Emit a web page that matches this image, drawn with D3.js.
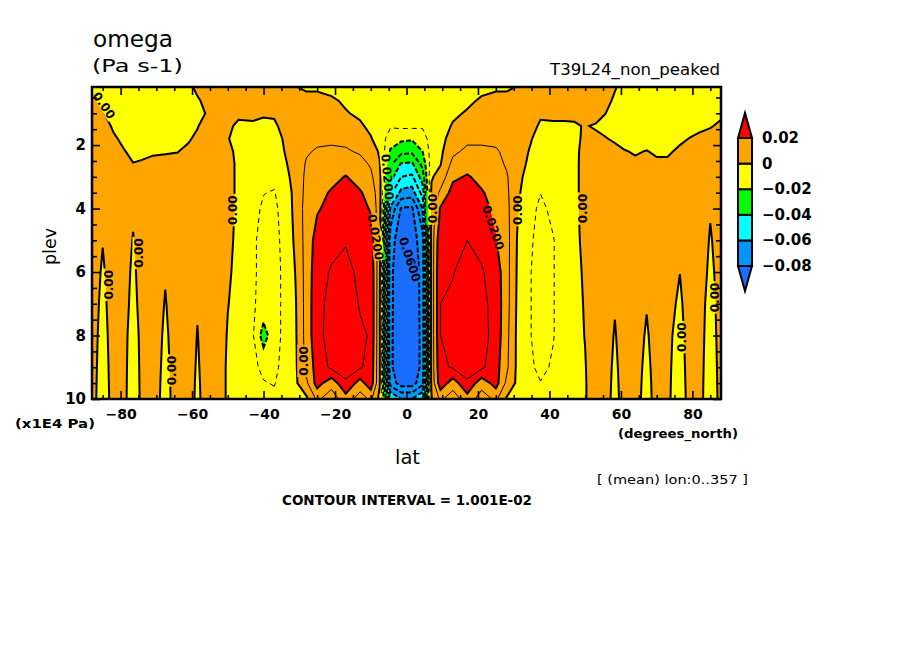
<!DOCTYPE html>
<html>
<head>
<meta charset="utf-8">
<title>omega</title>
<script src="https://cdn.jsdelivr.net/npm/d3@7"></script>
<style>
  body { margin: 0; background: #fff; }
  svg { display: block; }
  text { font-family: "DejaVu Sans", sans-serif; fill: #000; }
</style>
</head>
<body>
<svg id="chart" width="904" height="654"></svg>
<script>
// grid nodes (degrees_north) and levels (x1E4 Pa)
const lats = [-88, -85, -82, -79, -76.5, -74, -71, -67.5, -64, -61, -58.5, -56, -53, -50, -47, -43, -40, -37, -34, -31,
  -28, -25, -21, -17, -13, -10, -7.5, -4.5, -1.5, 1.5, 4.5, 7, 9.5, 13, 17, 21, 25, 28, 31, 34, 37.5, 41, 44, 47, 50,
  53, 55.5, 58.3, 61, 64, 67.2, 70, 73, 76.5, 79.5, 82, 85, 88];
const levels = [0.17, 0.6, 1.0, 1.4, 1.8, 2.2, 2.6, 3.0, 3.5, 4.0, 5.0, 6.0, 7.0, 8.0, 9.0, 9.5, 10.0];

// omega (Pa s-1): one profile per latitude, top level first
const omegaByLat = [
  [-0.003, 0.002, 0.004, 0.004, 0.004, 0.004, 0.004, 0.004, 0.004, 0.004, 0.004, 0.004, 0.004, 0.004, 0.004, 0.004, 0.004],
  [-0.004, -0.003, 0.0005, 0.003, 0.004, 0.004, 0.004, 0.004, 0.004, 0.003, 0.0003, -0.001, -0.0022, -0.0035, -0.0047, -0.0054, -0.006],
  [-0.004, -0.004, -0.003, -0.001, 0.001, 0.003, 0.004, 0.004, 0.004, 0.004, 0.004, 0.004, 0.004, 0.004, 0.004, 0.004, 0.004],
  [-0.004, -0.004, -0.004, -0.003, -0.0015, 0.0003, 0.003, 0.004, 0.004, 0.004, 0.004, 0.004, 0.004, 0.003, 0.003, 0.003, 0.003],
  [-0.004, -0.004, -0.004, -0.004, -0.003, -0.0015, 0.0002, 0.002, 0.002, 0.0011, -0.0004, -0.0019, -0.0034, -0.005, -0.0065, -0.0072, -0.008],
  [-0.004, -0.004, -0.004, -0.004, -0.003, -0.001, 0.0005, 0.003, 0.004, 0.004, 0.004, 0.004, 0.004, 0.003, 0.003, 0.003, 0.003],
  [-0.004, -0.004, -0.004, -0.003, -0.002, -0.0005, 0.001, 0.003, 0.004, 0.004, 0.004, 0.004, 0.004, 0.004, 0.004, 0.004, 0.004],
  [-0.004, -0.004, -0.004, -0.003, -0.0015, -0.0003, 0.001, 0.003, 0.004, 0.004, 0.003, 0.0005, -0.0004, -0.0013, -0.0021, -0.0026, -0.003],
  [-0.004, -0.004, -0.004, -0.003, -0.0015, -0.0001, 0.001, 0.003, 0.004, 0.004, 0.004, 0.004, 0.004, 0.004, 0.004, 0.004, 0.004],
  [-0.001, -0.003, -0.003, -0.002, -0.0005, 0.001, 0.003, 0.004, 0.004, 0.004, 0.004, 0.004, 0.004, 0.004, 0.004, 0.004, 0.004],
  [0.001, -0.0005, -0.002, -0.0003, 0.001, 0.003, 0.004, 0.004, 0.004, 0.004, 0.004, 0.003, 0.0006, -0.0003, -0.0011, -0.0016, -0.002],
  [0.002, 0.001, 0.0003, 0.002, 0.003, 0.004, 0.004, 0.004, 0.004, 0.004, 0.004, 0.004, 0.004, 0.004, 0.004, 0.004, 0.004],
  [0.003, 0.004, 0.004, 0.004, 0.004, 0.004, 0.004, 0.004, 0.004, 0.004, 0.004, 0.004, 0.004, 0.004, 0.004, 0.004, 0.004],
  [0.004, 0.004, 0.003, 0.001, 0.0003, 0.002, 0.0025, 0.0025, 0.0025, 0.0025, 0.002, 0.001, 0.0002, -0.0005, -0.001, -0.001, -0.001],
  [0.003, 0.003, 0.001, -0.001, -0.002, -0.002, -0.0015, -0.0015, -0.0015, -0.0015, -0.002, -0.002, -0.002, -0.002, -0.002, -0.002, -0.0015],
  [0.003, 0.003, 0.0015, -0.001, -0.003, -0.004, -0.005, -0.006, -0.007, -0.008, -0.009, -0.009, -0.009, -0.009, -0.008, -0.007, -0.005],
  [0.003, 0.003, 0.001, -0.002, -0.004, -0.005, -0.006, -0.008, -0.0098, -0.011, -0.012, -0.012, -0.013, -0.025, -0.012, -0.0095, -0.007],
  [0.002, 0.002, 0.0008, -0.001, -0.003, -0.005, -0.006, -0.008, -0.0105, -0.012, -0.013, -0.013, -0.013, -0.013, -0.012, -0.0105, -0.008],
  [0.002, 0.003, 0.003, 0.002, 0.001, 0.0003, -0.001, -0.003, -0.005, -0.006, -0.007, -0.008, -0.008, -0.008, -0.007, -0.006, -0.005],
  [0.0002, 0.003, 0.004, 0.004, 0.004, 0.004, 0.004, 0.004, 0.003, 0.003, 0.002, 0.0005, -0.0005, -0.001, -0.0015, -0.0015, -0.0015],
  [-0.001, 0.002, 0.004, 0.005, 0.006, 0.009, 0.011, 0.012, 0.013, 0.014, 0.014, 0.014, 0.014, 0.014, 0.013, 0.008, -0.002],
  [-0.001, 0.002, 0.004, 0.006, 0.008, 0.011, 0.013, 0.015, 0.017, 0.019, 0.024, 0.026, 0.027, 0.027, 0.024, 0.024, 0.012],
  [-0.002, 0.001, 0.004, 0.007, 0.009, 0.011, 0.014, 0.017, 0.021, 0.023, 0.027, 0.031, 0.033, 0.034, 0.032, 0.014, 0.004],
  [-0.003, -0.001, 0.0005, 0.004, 0.008, 0.011, 0.016, 0.0205, 0.024, 0.026, 0.029, 0.034, 0.038, 0.039, 0.036, 0.028, 0.016],
  [-0.004, -0.003, -0.0012, 0.001, 0.005, 0.009, 0.013, 0.016, 0.021, 0.024, 0.026, 0.027, 0.029, 0.032, 0.031, 0.016, 0.005],
  [-0.004, -0.004, -0.003, -0.0015, 0.0005, 0.004, 0.009, 0.012, 0.016, 0.019, 0.025, 0.028, 0.029, 0.029, 0.027, 0.026, 0.012],
  [-0.004, -0.005, -0.005, -0.004, -0.003, -0.001, 0.0005, 0.003, 0.004, 0.004, 0.003, 0.002, 0.001, 0.001, 0.001, 0.001, -0.003],
  [-0.004, -0.005, -0.006, -0.009, -0.016, -0.021, -0.028, -0.036, -0.047, -0.062, -0.076, -0.078, -0.078, -0.078, -0.078, -0.074, -0.050],
  [-0.003, -0.004, -0.005, -0.008, -0.018, -0.027, -0.041, -0.050, -0.063, -0.081, -0.086, -0.087, -0.087, -0.088, -0.088, -0.085, -0.060],
  [-0.003, -0.004, -0.005, -0.008, -0.019, -0.028, -0.042, -0.052, -0.065, -0.082, -0.086, -0.087, -0.087, -0.088, -0.088, -0.085, -0.060],
  [-0.004, -0.005, -0.006, -0.009, -0.014, -0.020, -0.027, -0.035, -0.046, -0.060, -0.074, -0.077, -0.077, -0.077, -0.077, -0.073, -0.050],
  [-0.004, -0.005, -0.005, -0.005, -0.006, -0.006, -0.005, -0.001, 0.002, 0.004, 0.004, 0.004, 0.004, 0.004, 0.004, 0.003, -0.001],
  [-0.004, -0.004, -0.004, -0.0035, -0.003, -0.002, -0.0005, 0.004, 0.012, 0.021, 0.028, 0.030, 0.030, 0.030, 0.028, 0.026, 0.012],
  [-0.004, -0.003, -0.0015, 0.0008, 0.004, 0.008, 0.013, 0.018, 0.024, 0.026, 0.028, 0.0295, 0.032, 0.033, 0.031, 0.015, 0.004],
  [-0.003, -0.0015, 0.0008, 0.004, 0.008, 0.012, 0.016, 0.021, 0.025, 0.027, 0.030, 0.035, 0.038, 0.039, 0.036, 0.028, 0.016],
  [-0.002, 0.001, 0.004, 0.007, 0.009, 0.011, 0.014, 0.017, 0.021, 0.023, 0.027, 0.031, 0.033, 0.034, 0.032, 0.014, 0.005],
  [-0.001, 0.002, 0.004, 0.006, 0.008, 0.011, 0.013, 0.015, 0.016, 0.018, 0.0205, 0.025, 0.026, 0.026, 0.024, 0.024, 0.012],
  [-0.001, 0.002, 0.004, 0.005, 0.006, 0.008, 0.009, 0.011, 0.012, 0.013, 0.014, 0.014, 0.014, 0.013, 0.012, 0.008, -0.001],
  [0.0003, 0.003, 0.004, 0.004, 0.004, 0.004, 0.004, 0.003, 0.002, 0.001, -0.0005, -0.001, -0.0015, -0.002, -0.002, -0.002, -0.003],
  [0.003, 0.004, 0.004, 0.003, 0.0015, 0.0002, -0.001, -0.003, -0.005, -0.006, -0.008, -0.009, -0.009, -0.009, -0.008, -0.006, -0.005],
  [0.003, 0.003, 0.001, -0.001, -0.003, -0.005, -0.006, -0.008, -0.0098, -0.012, -0.013, -0.013, -0.013, -0.013, -0.012, -0.0097, -0.007],
  [0.003, 0.003, 0.0015, -0.001, -0.003, -0.004, -0.005, -0.006, -0.007, -0.008, -0.0105, -0.0105, -0.0105, -0.0105, -0.009, -0.007, -0.005],
  [0.003, 0.003, 0.0015, -0.001, -0.002, -0.003, -0.004, -0.004, -0.005, -0.005, -0.006, -0.006, -0.006, -0.006, -0.005, -0.004, -0.003],
  [0.003, 0.003, 0.001, -0.0005, -0.001, -0.0015, -0.002, -0.002, -0.002, -0.002, -0.002, -0.002, -0.002, -0.002, -0.002, -0.002, -0.002],
  [0.003, 0.003, 0.002, 0.0003, 0.0008, 0.002, 0.003, 0.003, 0.003, 0.003, 0.002, 0.001, 0.0005, 0.0002, -0.0003, -0.0005, -0.0005],
  [0.004, 0.003, 0.002, -0.0005, 0.001, 0.003, 0.004, 0.004, 0.004, 0.004, 0.004, 0.004, 0.004, 0.004, 0.004, 0.004, 0.004],
  [0.004, 0.002, 0.0002, -0.002, 0.0005, 0.003, 0.004, 0.004, 0.004, 0.004, 0.004, 0.004, 0.004, 0.004, 0.004, 0.004, 0.004],
  [0.0005, -0.001, -0.002, -0.003, -0.001, 0.002, 0.004, 0.004, 0.004, 0.004, 0.004, 0.003, 0.0006, -0.0006, -0.0018, -0.0024, -0.003],
  [-0.002, -0.003, -0.003, -0.003, -0.002, 0.0003, 0.003, 0.004, 0.004, 0.004, 0.004, 0.004, 0.004, 0.004, 0.004, 0.004, 0.004],
  [-0.003, -0.004, -0.004, -0.004, -0.003, -0.0005, 0.001, 0.003, 0.004, 0.004, 0.004, 0.004, 0.004, 0.004, 0.004, 0.004, 0.004],
  [-0.003, -0.004, -0.004, -0.004, -0.002, 0.0002, 0.002, 0.004, 0.004, 0.004, 0.004, 0.003, 0.0005, -0.001, -0.0025, -0.0033, -0.004],
  [-0.003, -0.004, -0.004, -0.004, -0.003, -0.0008, 0.001, 0.003, 0.004, 0.004, 0.004, 0.004, 0.004, 0.004, 0.004, 0.004, 0.004],
  [-0.003, -0.004, -0.004, -0.004, -0.003, -0.0008, 0.001, 0.003, 0.004, 0.004, 0.004, 0.003, 0.003, 0.002, 0.002, 0.002, 0.002],
  [-0.003, -0.004, -0.004, -0.003, -0.001, 0.001, 0.003, 0.004, 0.004, 0.004, 0.003, 0.0001, -0.0015, -0.003, -0.0045, -0.0052, -0.006],
  [-0.003, -0.004, -0.004, -0.002, 0.0003, 0.003, 0.004, 0.004, 0.004, 0.004, 0.004, 0.004, 0.005, 0.005, 0.005, 0.005, 0.005],
  [-0.003, -0.004, -0.003, -0.001, 0.001, 0.003, 0.004, 0.004, 0.004, 0.004, 0.004, 0.004, 0.003, 0.003, 0.003, 0.003, 0.003],
  [-0.003, -0.003, -0.002, -0.0002, 0.001, 0.003, 0.003, 0.003, 0.002, 0.0005, -0.0006, -0.0017, -0.0028, -0.0038, -0.0049, -0.0055, -0.006],
  [-0.003, -0.002, -0.0005, 0.0005, 0.002, 0.003, 0.003, 0.003, 0.003, 0.003, 0.003, 0.003, 0.003, 0.003, 0.003, 0.003, 0.003]
];

// shading levels and colours, contour lines every interval
const fillLevels = [-0.08, -0.06, -0.04, -0.02, 0, 0.02];
const fillColors = ["#1a6eff", "#0096ff", "#00ffff", "#00ff00", "#ffff00", "#ffa500", "#ff0000"];
const contourInterval = 1.001e-2;
const contourSteps = [-9, -8, -7, -6, -5, -4, -3, -2, -1, 0, 1, 2, 3, 4];

const latMajor = [-80, -60, -40, -20, 0, 20, 40, 60, 80];
const latMinor = [-85, -75, -70, -65, -55, -50, -45, -35, -30, -25, -15, -10, -5, 5, 10, 15, 25, 30, 35, 45, 50, 55, 65, 70, 75, 85];
const levMajor = [2, 4, 6, 8, 10];
const levMinor = [0.5, 1, 1.5, 2.5, 3, 3.5, 4.5, 5, 5.5, 6.5, 7, 7.5, 8.5, 9, 9.5];
const legendLabels = ["0.02", "0", "\u22120.02", "\u22120.04", "\u22120.06", "\u22120.08"];

// contour labels (lat, level, rotation)
const lineLabels = [
  { text: "0.00", lat: -84.6, lev: 0.75, angle: 55 },
  { text: "0.00", lat: -83.4, lev: 6.4, angle: -90 },
  { text: "0.00", lat: -75.0, lev: 5.4, angle: -90 },
  { text: "0.00", lat: -65.6, lev: 9.1, angle: -90 },
  { text: "0.00", lat: -48.6, lev: 4.05, angle: -90 },
  { text: "0.00", lat: -28.9, lev: 8.8, angle: -90 },
  { text: "0.0200", lat: -8.6, lev: 4.9, angle: 80 },
  { text: "0.0200", lat: -5.3, lev: 3.0, angle: 85 },
  { text: "0.0600", lat: 1.0, lev: 5.6, angle: 72 },
  { text: "0.00", lat: 7.2, lev: 4.0, angle: -90 },
  { text: "0.0200", lat: 24.3, lev: 4.6, angle: 72 },
  { text: "0.00", lat: 31.2, lev: 4.05, angle: -90 },
  { text: "0.00", lat: 49.3, lev: 4.0, angle: -90 },
  { text: "0.00", lat: 76.9, lev: 8.05, angle: -90 },
  { text: "0.00", lat: 86.2, lev: 6.8, angle: -90 }
];

const svg = d3.select("#chart");
const plot = { left: 92, right: 721, top: 87, bottom: 399 };

const x = d3.scaleLinear().domain([-88, 88]).range([plot.left, plot.right]);
const y = d3.scaleLinear().domain([0.17, 10]).range([plot.top, plot.bottom]);

// grid index space -> data space (values sit at cell centres)
const nLat = lats.length, nLev = levels.length;
const colToLat = d3.scaleLinear().domain(lats.map((d, i) => i + 0.5)).range(lats).clamp(true);
const rowToLev = d3.scaleLinear().domain(levels.map((d, i) => i + 0.5)).range(levels).clamp(true);
const path = d3.geoPath(d3.geoTransform({
  point(px, py) { this.stream.point(x(colToLat(px)), y(rowToLev(py))); }
}));

const grid = new Array(nLat * nLev);
for (let j = 0; j < nLev; j++)
  for (let i = 0; i < nLat; i++) grid[j * nLat + i] = omegaByLat[i][j];

const defs = svg.append("defs");
defs.append("clipPath").attr("id", "plotClip").append("rect")
  .attr("x", plot.left).attr("y", plot.top)
  .attr("width", plot.right - plot.left).attr("height", plot.bottom - plot.top);

const labelW = d => d.text.length * 7.6 + 2;
const mask = defs.append("mask").attr("id", "labelMask")
  .attr("maskUnits", "userSpaceOnUse").attr("x", 0).attr("y", 0).attr("width", 904).attr("height", 654);
mask.append("rect").attr("width", 904).attr("height", 654).attr("fill", "#fff");
mask.selectAll("rect.hole").data(lineLabels).join("rect")
  .attr("class", "hole")
  .attr("transform", d => `translate(${x(d.lat)},${y(d.lev)}) rotate(${d.angle})`)
  .attr("x", d => -labelW(d) / 2).attr("y", -6).attr("width", labelW).attr("height", 12)
  .attr("fill", "#000");

// filled bands
const bands = d3.contours().size([nLat, nLev]).thresholds([-1, ...fillLevels])(grid);
svg.append("g").attr("clip-path", "url(#plotClip)")
  .selectAll("path").data(bands).join("path")
  .attr("d", path)
  .attr("fill", (d, i) => fillColors[i]);

// contour lines: heavier on the shading levels, dashed below zero
const contourGen = d3.contours().size([nLat, nLev]);
const lines = contourSteps.map(k => ({ k, geom: contourGen.contour(grid, k * contourInterval) }));
svg.append("g").attr("clip-path", "url(#plotClip)")
  .append("g").attr("mask", "url(#labelMask)")
  .selectAll("path").data(lines).join("path")
  .attr("d", d => path(d.geom))
  .attr("fill", "none")
  .attr("stroke", "#000")
  .attr("stroke-width", d => (d.k % 2 === 0 || d.k < -1) ? 2 : 1)
  .attr("stroke-dasharray", d => d.k < 0 ? (d.k < -1 ? "5,2" : "5,4") : null);

svg.append("g").selectAll("text").data(lineLabels).join("text")
  .attr("transform", d => `translate(${x(d.lat)},${y(d.lev)}) rotate(${d.angle})`)
  .attr("text-anchor", "middle").attr("dy", "0.36em")
  .attr("font-size", 12).attr("font-weight", "bold")
  .text(d => d.text);

// frame and inward ticks
function tickAxis(axis, transform) {
  const g = svg.append("g").attr("transform", transform).call(axis);
  g.select(".domain").remove();
  g.selectAll(".tick line").attr("stroke", "#000").attr("stroke-width", 1.6);
  return g;
}
tickAxis(d3.axisBottom(x).tickValues(latMinor).tickSize(-4).tickFormat(""), `translate(0,${plot.bottom})`);
tickAxis(d3.axisTop(x).tickValues(latMinor).tickSize(-4).tickFormat(""), `translate(0,${plot.top})`);
tickAxis(d3.axisTop(x).tickValues(latMajor).tickSize(-8).tickFormat(""), `translate(0,${plot.top})`);
const xAx = tickAxis(d3.axisBottom(x).tickValues(latMajor).tickSize(-8).tickPadding(10), `translate(0,${plot.bottom})`);
xAx.selectAll("text").attr("font-size", 14).attr("font-weight", "bold").attr("font-family", "DejaVu Sans");

tickAxis(d3.axisLeft(y).tickValues(levMinor).tickSize(-5).tickFormat(""), `translate(${plot.left},0)`);
tickAxis(d3.axisRight(y).tickValues(levMinor).tickSize(-5).tickFormat(""), `translate(${plot.right},0)`);
tickAxis(d3.axisRight(y).tickValues(levMajor).tickSize(-8).tickFormat(""), `translate(${plot.right},0)`);
const yAx = tickAxis(d3.axisLeft(y).tickValues(levMajor).tickSize(-8).tickPadding(6).tickFormat(d3.format("d")), `translate(${plot.left},0)`);
yAx.selectAll("text").attr("font-size", 15).attr("font-weight", "bold").attr("font-family", "DejaVu Sans");

svg.append("rect")
  .attr("x", plot.left).attr("y", plot.top)
  .attr("width", plot.right - plot.left).attr("height", plot.bottom - plot.top)
  .attr("fill", "none").attr("stroke", "#000").attr("stroke-width", 2.5);

// colour key
const key = { x: 738, w: 14, tip: 25 };
const ky = d3.scaleLinear().domain([0.02, -0.08]).range([138, 266]);
const keyG = svg.append("g").attr("stroke", "#000").attr("stroke-width", 2);
keyG.selectAll("rect").data(d3.pairs(fillLevels)).join("rect")
  .attr("x", key.x).attr("width", key.w)
  .attr("y", d => ky(d[1])).attr("height", d => ky(d[0]) - ky(d[1]))
  .attr("fill", (d, i) => fillColors[i + 1]);
keyG.append("path")
  .attr("d", `M${key.x},${ky(0.02)}L${key.x + key.w / 2},${ky(0.02) - key.tip}L${key.x + key.w},${ky(0.02)}Z`)
  .attr("fill", fillColors[6]);
keyG.append("path")
  .attr("d", `M${key.x},${ky(-0.08)}L${key.x + key.w / 2},${ky(-0.08) + key.tip}L${key.x + key.w},${ky(-0.08)}Z`)
  .attr("fill", fillColors[0]);
svg.append("g").selectAll("text").data(legendLabels).join("text")
  .attr("x", 762).attr("y", (d, i) => ky(fillLevels[fillLevels.length - 1 - i]) + 5)
  .attr("font-size", 15).attr("font-weight", "bold")
  .text(d => d);

// titles and notes
function note(t, xPos, yPos, size, len, opts = {}) {
  const el = svg.append("text").attr("x", xPos).attr("y", yPos)
    .attr("font-size", size).text(t);
  if (len) el.attr("textLength", len).attr("lengthAdjust", "spacingAndGlyphs");
  if (opts.bold) el.attr("font-weight", "bold");
  if (opts.anchor) el.attr("text-anchor", opts.anchor);
  if (opts.rotate) el.attr("transform", `rotate(${opts.rotate},${xPos},${yPos})`);
  return el;
}
note("omega", 93, 47, 23, 80);
note("(Pa s-1)", 92, 72, 17, 91);
note("T39L24_non_peaked", 550, 75, 16, 170);
note("plev", 56, 265, 18, 37, { rotate: -90 });
note("(x1E4 Pa)", 15, 428, 13, 80, { bold: true });
note("lat", 395, 464, 20, 25);
note("(degrees_north)", 618, 438, 13, 120, { bold: true });
note("[ (mean) lon:0..357 ]", 597, 484, 13, 151);
note("CONTOUR INTERVAL = 1.001E-02", 282, 505, 14, 250, { bold: true });
</script>
</body>
</html>
